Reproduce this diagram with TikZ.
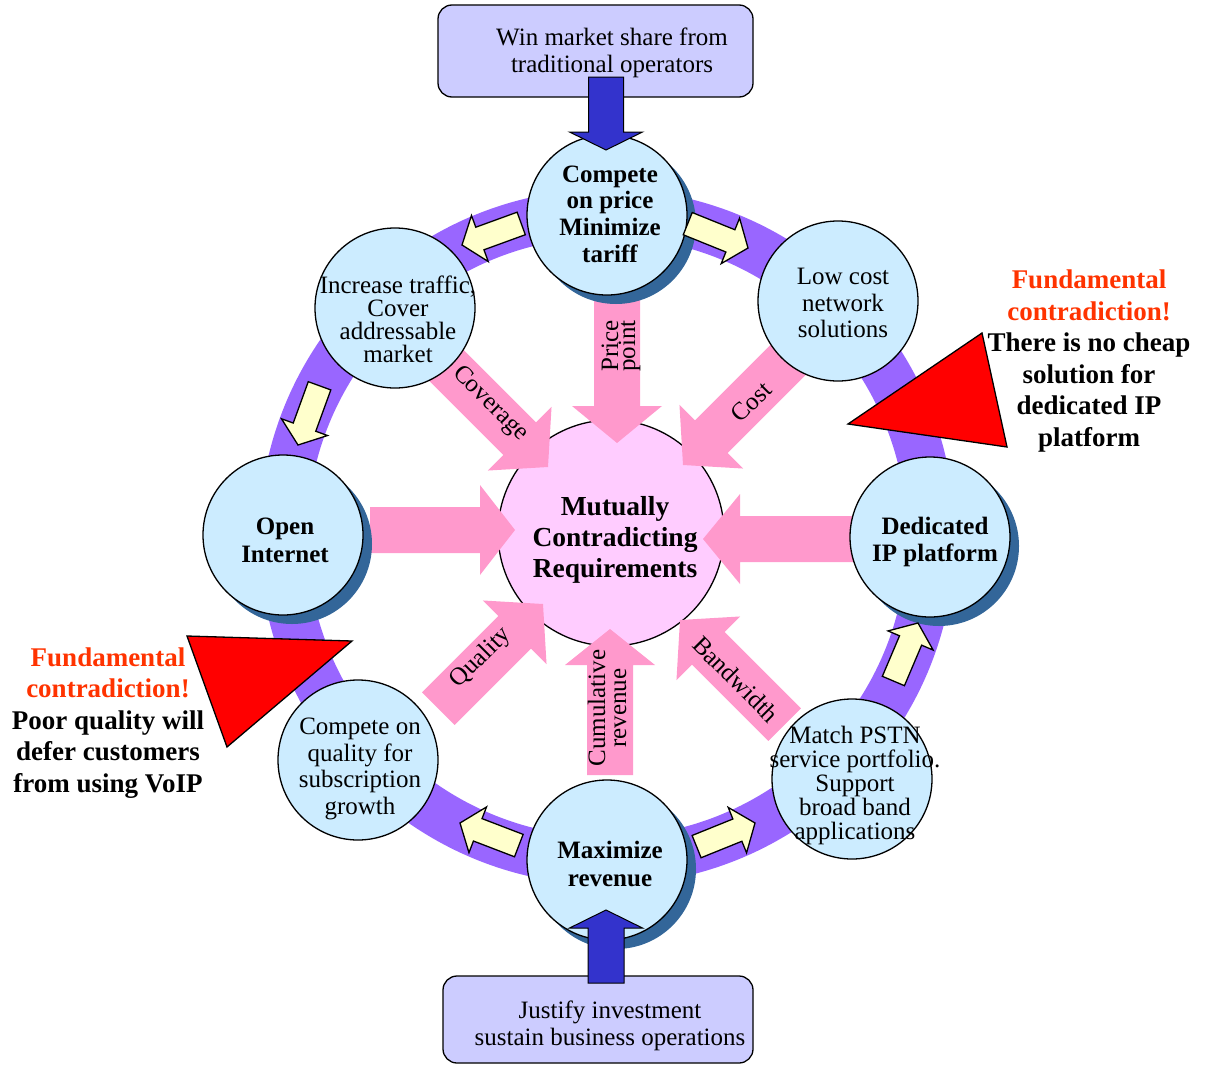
\documentclass[tikz,border=0pt]{standalone}
\usepackage{fontspec}
\setmainfont{Liberation Serif}
\definecolor{ringc}{HTML}{9966FF}
\definecolor{cfill}{HTML}{CCECFF}
\definecolor{midfill}{HTML}{FFCCFF}
\definecolor{pinkc}{HTML}{FF99CC}
\definecolor{yelc}{HTML}{FFFFCC}
\definecolor{shadowc}{HTML}{336699}
\definecolor{bluec}{HTML}{3333CC}
\definecolor{boxc}{HTML}{CCCCFF}
\definecolor{redt}{HTML}{FF3300}
\definecolor{trired}{HTML}{FF0000}
% #1 style, #2 tip, #3 angle, #4 length, #5 shaft width, #6 head width, #7 head length
\newcommand\fatarrow[7]{%
  \begin{scope}[shift={#2},rotate=#3]
    \path[#1] (0,0) -- (-#7,#6/2) -- (-#7,#5/2) -- (-#4,#5/2) -- (-#4,-#5/2) -- (-#7,-#5/2) -- (-#7,-#6/2) -- cycle;
  \end{scope}}
\begin{document}
\begin{tikzpicture}[x=1pt,y=1pt,
  circ/.style={circle, draw=black, line width=1.3pt, fill=cfill, minimum size=160pt, inner sep=0pt},
  midc/.style={circle, draw=black, line width=1.3pt, fill=midfill, minimum size=226pt, inner sep=0pt},
  shad/.style={fill=shadowc},
  pinkA/.style={fill=pinkc},
  yel/.style={fill=yelc, draw=black, line width=1.3pt, line join=miter},
  bluearr/.style={fill=bluec, draw=black, line width=1pt},
  tri/.style={fill=trired, draw=black, line width=1.3pt},
  boxs/.style={draw=black, line width=1.3pt, fill=boxc, rounded corners=14pt, inner sep=0pt},
  tr/.style={align=center, inner sep=0pt, font=\fontsize{25}{27}\selectfont},
  tb/.style={align=center, inner sep=0pt, font=\fontsize{25}{27}\selectfont\bfseries},
  lbl/.style={align=center, inner sep=0pt, font=\fontsize{25}{21}\selectfont},
  note/.style={align=center, inner sep=0pt, font=\fontsize{27}{31.6}\selectfont\bfseries}
]
\useasboundingbox (0,0) rectangle (1209,-1065);

% ring
\draw[ringc, line width=48pt] (607,-537) circle (324);

% centre circle
\node[midc] (mid) at (611,-533) {};

% pink arrows
\fatarrow{pinkA}{(617,-443)}{-90}{160}{46}{90}{37}
\fatarrow{pinkA}{(683,-465)}{-135}{160}{46}{90}{40}
\fatarrow{pinkA}{(548,-467)}{-45}{160}{46}{90}{40}
\fatarrow{pinkA}{(515,-530)}{0}{145}{46}{90}{35}
\fatarrow{pinkA}{(703,-539)}{180}{160}{46}{90}{37}
\fatarrow{pinkA}{(543,-604)}{45}{148}{46}{90}{40}
\fatarrow{pinkA}{(610,-629)}{90}{146}{46}{90}{36}
\fatarrow{pinkA}{(680,-620)}{135}{148}{46}{90}{40}

\node[lbl, rotate=90, font=\fontsize{25}{17}\selectfont] (lprice) at (621,-346) {Price\\point};
\node[lbl, rotate=45] (lcost) at (751,-402) {Cost};
\node[lbl, rotate=-45] (lcov) at (490,-404) {Coverage};
\node[lbl, rotate=45] (lqual) at (481,-658) {Quality};
\node[lbl, rotate=90] (lcum) at (607,-708) {Cumulative\\revenue};
\node[lbl, rotate=-45] (lband) at (736,-679) {Bandwidth};

\node[tb, font=\fontsize{27.5}{31}\selectfont\bfseries] (midT) at (615,-540) {Mutually\\Contradicting\\Requirements};

% outer circles
\fill[shad] (616,-224) circle (80);
\node[circ] (top) at (607,-215) {};
\fill[shad] (292,-544) circle (80);
\node[circ] (open) at (283,-535) {};
\fill[shad] (939,-546) circle (80);
\node[circ] (ded) at (930,-537) {};
\fill[shad] (616,-869) circle (80);
\node[circ] (max) at (607,-860) {};
\node[circ] (inc) at (395,-308) {};
\node[circ] (low) at (838,-301) {};
\node[circ] (qual) at (358,-760) {};
\node[circ] (pstn) at (852,-779) {};

\node[tb, font=\fontsize{25}{26.7}\selectfont\bfseries] (topT) at (610,-214) {Compete\\on price\\Minimize\\tariff};
\node[tb, font=\fontsize{25}{28}\selectfont\bfseries] (openT) at (285,-540) {Open\\Internet};
\node[tb] (dedT) at (935,-542) {Dedicated\\IP platform};
\node[tb, font=\fontsize{25}{28}\selectfont\bfseries] (maxT) at (610,-864) {Maximize\\revenue};
\node[tr, font=\fontsize{25}{23}\selectfont] (incT) at (398,-319) {Increase traffic,\\Cover\\addressable\\market};
\node[tr, font=\fontsize{25}{26.5}\selectfont] (lowT) at (843,-303) {Low cost\\network\\solutions};
\node[tr, font=\fontsize{25}{26.7}\selectfont] (qualT) at (360,-769) {Compete on\\quality for\\subscription\\growth};
\node[tr, font=\fontsize{25}{24}\selectfont] (pstnT) at (855,-785) {Match PSTN\\service portfolio.\\Support\\broad band\\applications};

% yellow arrows on the ring
\fatarrow{yel}{(462,-245)}{200}{63}{24}{49}{19}
\fatarrow{yel}{(748,-248)}{-22}{65}{24}{49}{19}
\fatarrow{yel}{(298,-445)}{250}{63}{24}{49}{19}
\fatarrow{yel}{(918,-623)}{67}{63}{24}{49}{19}
\fatarrow{yel}{(460,-823)}{159}{63}{24}{49}{19}
\fatarrow{yel}{(755,-823)}{22}{63}{24}{49}{19}

% red triangles and notes
\draw[tri] (848,-424) -- (982,-333) -- (1007,-447) -- cycle;
\draw[tri] (187,-636) -- (352,-641) -- (227,-747) -- cycle;
\node[note] (noteR) at (1089,-361) {\textcolor{redt}{Fundamental}\\\textcolor{redt}{contradiction!}\\There is no cheap\\solution for\\dedicated IP\\platform};
\node[note] (noteL) at (108,-723) {\textcolor{redt}{Fundamental}\\\textcolor{redt}{contradiction!}\\Poor quality will\\defer customers\\from using VoIP};

% boxes
\node[boxs, minimum width=315pt, minimum height=92pt] (winbox) at (595.5,-51) {};
\node[tr] (winT) at (612,-53) {Win market share from\\traditional operators};
\node[boxs, minimum width=310pt, minimum height=87pt] (jusbox) at (598,-1019.5) {};
\node[tr] (jusT) at (610,-1026) {Justify investment\\sustain business operations};

% blue arrows
\fatarrow{bluearr}{(606,-150)}{-90}{73}{35}{73}{18}
\fatarrow{bluearr}{(606,-910)}{90}{73}{36}{73}{18}
\end{tikzpicture}
\end{document}
